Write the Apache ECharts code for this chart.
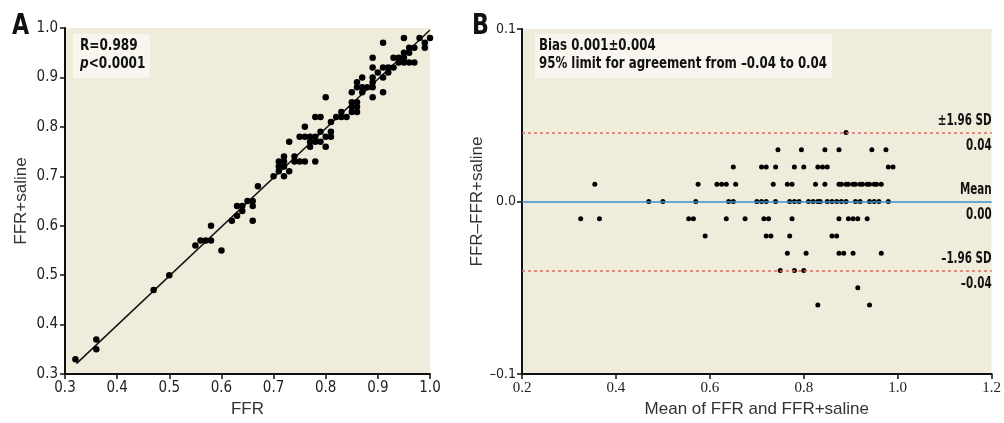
<!DOCTYPE html>
<html lang="en">
<head>
<meta charset="UTF-8">
<title>FFR vs FFR+saline</title>
<script src="https://cdn.jsdelivr.net/npm/echarts@6/dist/echarts.min.js"></script>
<style>
  html, body { margin: 0; padding: 0; background: #fff; }
  #chart { width: 1004px; height: 423px; }
</style>
</head>
<body>
<div id="chart"></div>
<script>
// panel A: FFR vs FFR+saline, [FFR, FFR+saline]
var ffrPairs = [
  [0.32, 0.33], [0.36, 0.37], [0.36, 0.35], [0.47, 0.47], [0.50, 0.50],
  [0.55, 0.56], [0.56, 0.57], [0.57, 0.57], [0.58, 0.57], [0.58, 0.60],
  [0.60, 0.55], [0.62, 0.61], [0.63, 0.62], [0.63, 0.64], [0.64, 0.63],
  [0.64, 0.64], [0.65, 0.65], [0.66, 0.65], [0.66, 0.64], [0.66, 0.61],
  [0.67, 0.68], [0.70, 0.70], [0.71, 0.73], [0.71, 0.72], [0.71, 0.71],
  [0.72, 0.74], [0.72, 0.73], [0.72, 0.72], [0.72, 0.70], [0.73, 0.71],
  [0.74, 0.74], [0.74, 0.73], [0.75, 0.73], [0.76, 0.73], [0.78, 0.73],
  [0.73, 0.77], [0.75, 0.78], [0.76, 0.80], [0.76, 0.78], [0.77, 0.78],
  [0.77, 0.77], [0.78, 0.82], [0.79, 0.82], [0.78, 0.78], [0.78, 0.77],
  [0.77, 0.76], [0.79, 0.79], [0.79, 0.77], [0.80, 0.76], [0.80, 0.78],
  [0.81, 0.78], [0.81, 0.79], [0.80, 0.86], [0.81, 0.81], [0.82, 0.82],
  [0.83, 0.82], [0.84, 0.82], [0.83, 0.83], [0.85, 0.83], [0.86, 0.83],
  [0.85, 0.84], [0.86, 0.84], [0.85, 0.85], [0.86, 0.85], [0.85, 0.87],
  [0.86, 0.88], [0.86, 0.89], [0.87, 0.88], [0.87, 0.87], [0.88, 0.88],
  [0.89, 0.88], [0.89, 0.89], [0.89, 0.90], [0.87, 0.90], [0.89, 0.86],
  [0.89, 0.92], [0.89, 0.94], [0.90, 0.91], [0.91, 0.92], [0.91, 0.90],
  [0.91, 0.87], [0.91, 0.97], [0.92, 0.92], [0.92, 0.91], [0.93, 0.92],
  [0.93, 0.94], [0.94, 0.94], [0.95, 0.95], [0.96, 0.96], [0.95, 0.94],
  [0.94, 0.93], [0.95, 0.93], [0.96, 0.93], [0.97, 0.93], [0.95, 0.98],
  [0.96, 0.95], [0.97, 0.96], [0.98, 0.98], [0.99, 0.97], [0.99, 0.96],
  [1.00, 0.98]
];
var fitLine = [[0.322, 0.321], [1.0, 0.996]];

// panel B: Bland-Altman, mean values grouped by difference level
var diffLevels = [0.04, 0.03, 0.02, 0.01, 0, -0.01, -0.02, -0.03, -0.04, -0.05, -0.06];
var meansAtLevel = [
  [0.89],
  [0.745, 0.795, 0.845, 0.875, 0.945, 0.975],
  [0.65, 0.71, 0.72, 0.74, 0.78, 0.80, 0.83, 0.84, 0.85, 0.98, 0.99],
  [0.355, 0.575, 0.615, 0.625, 0.635, 0.655, 0.735, 0.765, 0.775, 0.825, 0.845,
   0.875, 0.88, 0.89, 0.895, 0.905, 0.91, 0.92, 0.925, 0.935, 0.94, 0.95, 0.955, 0.965],
  [0.47, 0.50, 0.57, 0.64, 0.65, 0.70, 0.71, 0.72, 0.74, 0.77, 0.78, 0.79, 0.81, 0.82,
   0.83, 0.835, 0.85, 0.86, 0.87, 0.88, 0.89, 0.91, 0.92, 0.94, 0.95, 0.96, 0.98],
  [0.325, 0.365, 0.555, 0.565, 0.635, 0.675, 0.715, 0.725, 0.775, 0.875, 0.895, 0.905, 0.915, 0.935],
  [0.59, 0.72, 0.73, 0.77, 0.86, 0.87],
  [0.765, 0.805, 0.875, 0.885, 0.905, 0.965],
  [0.75, 0.78, 0.80],
  [0.915],
  [0.83, 0.94]
];
var refValues = [0.04, 0, -0.04];
var refNames = ['\u00b11.96 SD', 'Mean', '\u20131.96 SD'];
var refValueText = ['0.04', '0.00', '\u20130.04'];

var baPoints = [];
diffLevels.forEach(function (d, i) {
  meansAtLevel[i].forEach(function (m) { baPoints.push([m, d]); });
});

var narrow = "'DejaVu Sans Condensed', 'Liberation Sans Narrow', sans-serif";
var plotBg = '#f0ecdc';
var boxBg = '#f8f6ee';
var redDash = '#d8685e';
var blue = '#3b8fd3';

function minusFmt(v) {
  return v.toFixed(1).replace('-', '\u2013');
}
function oneDec(v) { return v.toFixed(1); }

var axisCommon = {
  type: 'value',
  axisLine: { show: true, onZero: false, lineStyle: { color: '#111', width: 2 } },
  axisTick: { show: true, length: 5, lineStyle: { color: '#111', width: 1.5 } },
  splitLine: { show: false },
  showMinLabel: true,
  showMaxLabel: true
};
var nameStyle = { fontFamily: 'Liberation Sans', fontSize: 17, color: '#333' };

// condensed bold text drawn with a horizontal squeeze
function squeezed(x, y, text, size, sx, align, valign, extra) {
  var el = {
    type: 'text', x: x, y: y, scaleX: sx, z: 11,
    style: Object.assign({
      text: text, font: 'bold ' + size + 'px ' + narrow, fill: '#111',
      align: align || 'left', verticalAlign: valign || 'top'
    }, extra || {})
  };
  return el;
}

var chart = echarts.init(document.getElementById('chart'));

var option = {
  animation: false,
  grid: [
    { left: 65, top: 28, width: 365, height: 346, show: true, backgroundColor: plotBg, borderWidth: 0 },
    { left: 522, top: 29, width: 475, height: 345, show: true, backgroundColor: plotBg, borderWidth: 0 }
  ],
  xAxis: [
    Object.assign({}, axisCommon, {
      gridIndex: 0, min: 0.3, max: 1.0, interval: 0.1,
      name: 'FFR', nameLocation: 'middle', nameGap: 27, nameTextStyle: nameStyle,
      axisLabel: { fontFamily: narrow, fontSize: 15, color: '#222', margin: 7, formatter: oneDec }
    }),
    Object.assign({}, axisCommon, {
      gridIndex: 1, min: 0.2, max: 1.2, interval: 0.2,
      name: 'Mean of FFR and FFR+saline', nameLocation: 'middle', nameGap: 27, nameTextStyle: nameStyle,
      axisLabel: { fontFamily: 'Liberation Serif', fontSize: 15, color: '#222', margin: 7, formatter: oneDec }
    })
  ],
  yAxis: [
    Object.assign({}, axisCommon, {
      gridIndex: 0, min: 0.3, max: 1.0, interval: 0.1,
      name: 'FFR+saline', nameLocation: 'middle', nameGap: 35, nameTextStyle: nameStyle,
      axisLabel: { fontFamily: narrow, fontSize: 15, color: '#222', margin: 7, formatter: oneDec }
    }),
    Object.assign({}, axisCommon, {
      gridIndex: 1, min: -0.1, max: 0.1, interval: 0.1,
      name: 'FFR\u2013FFR+saline', nameLocation: 'middle', nameGap: 27, nameTextStyle: nameStyle,
      axisLabel: { fontFamily: narrow, fontSize: 14, color: '#222', margin: 6, formatter: minusFmt }
    })
  ],
  series: [
    {
      type: 'line', xAxisIndex: 0, yAxisIndex: 0, data: fitLine,
      showSymbol: false, lineStyle: { color: '#111', width: 1.5 }, z: 2
    },
    {
      type: 'scatter', xAxisIndex: 0, yAxisIndex: 0, data: ffrPairs,
      symbolSize: 6.5, itemStyle: { color: '#000', opacity: 1 }, z: 3
    },
    {
      type: 'scatter', xAxisIndex: 1, yAxisIndex: 1, data: baPoints,
      symbolSize: 5, itemStyle: { color: '#000', opacity: 1 }, z: 4,
      markLine: {
        silent: true, symbol: 'none', label: { show: false },
        data: refValues.map(function (v) {
          return { yAxis: v, lineStyle: v === 0
            ? { color: blue, type: 'solid', width: 1.5 }
            : { color: redDash, type: [3, 3], width: 1.5 } };
        })
      }
    }
  ]
};

chart.setOption(option);

// annotation boxes, panel letters and reference line captions
var gfx = [
  squeezed(12, 12, 'A', 29, 0.85),
  squeezed(472, 12, 'B', 29, 0.85),
  { type: 'rect', shape: { x: 73, y: 34, width: 77, height: 44 }, style: { fill: boxBg }, z: 10 },
  squeezed(80, 37, 'R=0.989\n{i|p}<0.0001', 16, 0.84, 'left', 'top', {
    lineHeight: 18, rich: { i: { fontStyle: 'italic', fontWeight: 'bold', fontFamily: narrow, fontSize: 16 } }
  }),
  { type: 'rect', shape: { x: 535, y: 34, width: 297, height: 44 }, style: { fill: boxBg }, z: 10 },
  squeezed(539, 37, 'Bias 0.001\u00b10.004\n95% limit for agreement from \u20130.04 to 0.04', 16, 0.82, 'left', 'top', { lineHeight: 18 })
];
refValues.forEach(function (v, i) {
  var p = chart.convertToPixel({ gridIndex: 1 }, [1.2, v]);
  gfx.push(squeezed(p[0], p[1] - 4, refNames[i], 16, 0.72, 'right', 'bottom'));
  gfx.push(squeezed(p[0], p[1] + 5, refValueText[i], 16, 0.72, 'right', 'top'));
});
chart.setOption({ graphic: gfx });
</script>
</body>
</html>
